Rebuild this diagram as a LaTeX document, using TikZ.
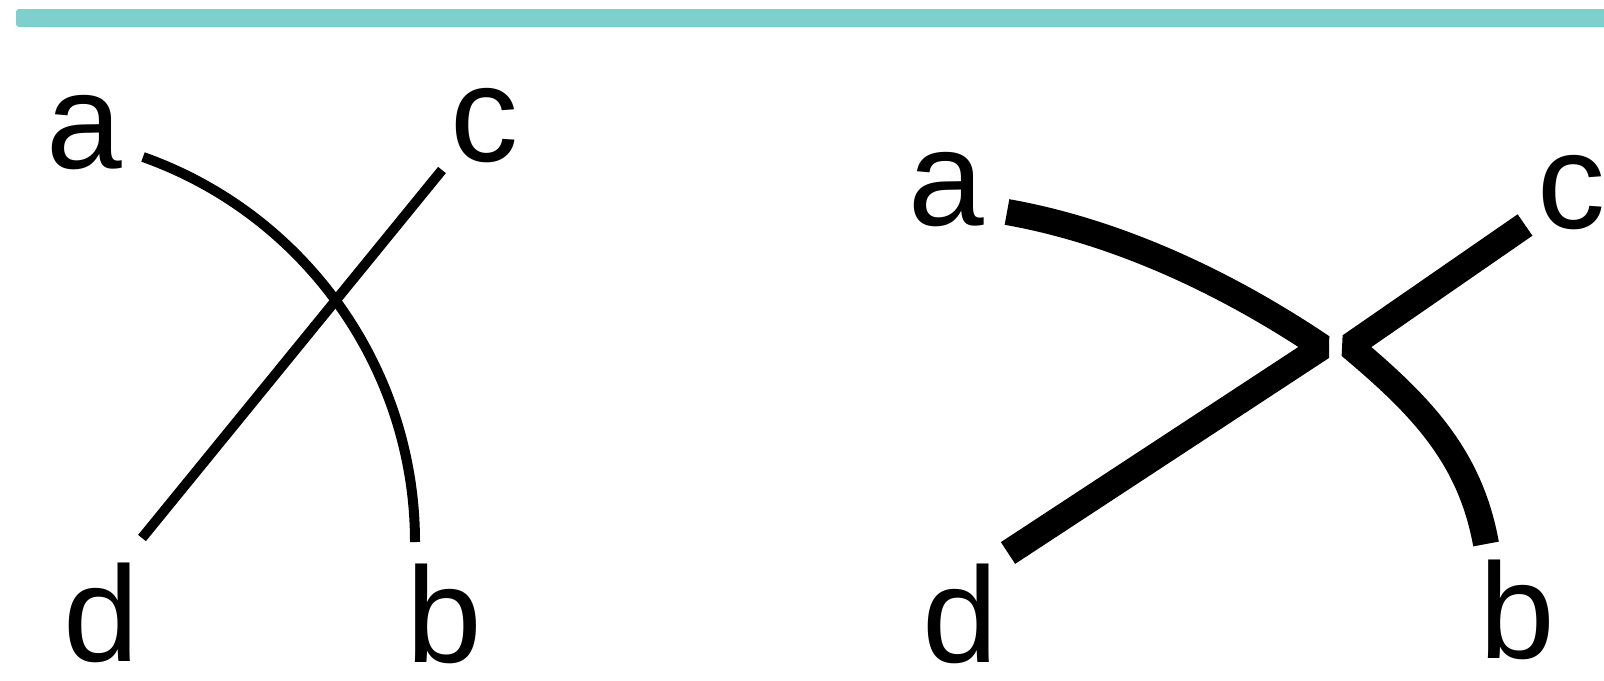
\documentclass[tikz,border=0pt]{standalone}
\usepackage{fontspec}
\setmainfont{Liberation Sans}
\definecolor{barteal}{RGB}{128,207,207}

\begin{document}
\begin{tikzpicture}
		[x=0.5pt, y=-0.5pt,
		letter/.style={anchor=base, inner sep=0pt, font=\fontsize{68}{80}\selectfont},
		strand/.style={line width=5pt},
		fatstrand/.style={line width=13pt, line join=bevel}]
		\useasboundingbox (0,0) rectangle (1604,680);
		\clip (0,0) rectangle (1604,680);
		\fill[barteal, rounded corners=1.5pt] (16,9) rectangle (1640,27);

		% crossing
		\node[letter] (la) at (84,168) {a};
		\node[letter] (lc) at (484,161) {c};
		\node[letter] (ld) at (101,661) {d};
		\node[letter] (lb) at (444,662) {b};
		\coordinate (a1) at (143,157);
		\coordinate (b1) at (415,542);
		\coordinate (c1) at (442,170);
		\coordinate (d1) at (142,538);
		\draw[strand] (a1) .. controls (305.6,214.6) and (415,369.5) .. (b1);
		\draw[strand] (c1) -- (d1);

		% split
		\node[letter] (ra) at (946,225) {a};
		\node[letter] (rc) at (1571,228) {c};
		\node[letter] (rd) at (960,662) {d};
		\node[letter] (rb) at (1517,658) {b};
		\coordinate (a2) at (1007,212);
		\coordinate (xl) at (1322,347);
		\coordinate (d2) at (1008,553);
		\coordinate (c2) at (1525,225);
		\coordinate (xr) at (1350,346);
		\coordinate (b2) at (1486,544);
		\draw[fatstrand] (a2) .. controls (1120,232) and (1230,285) .. (xl) -- (d2);
		\draw[fatstrand] (c2) -- (xr) .. controls (1419,404) and (1470,455) .. (b2);
	\end{tikzpicture}
\end{document}
